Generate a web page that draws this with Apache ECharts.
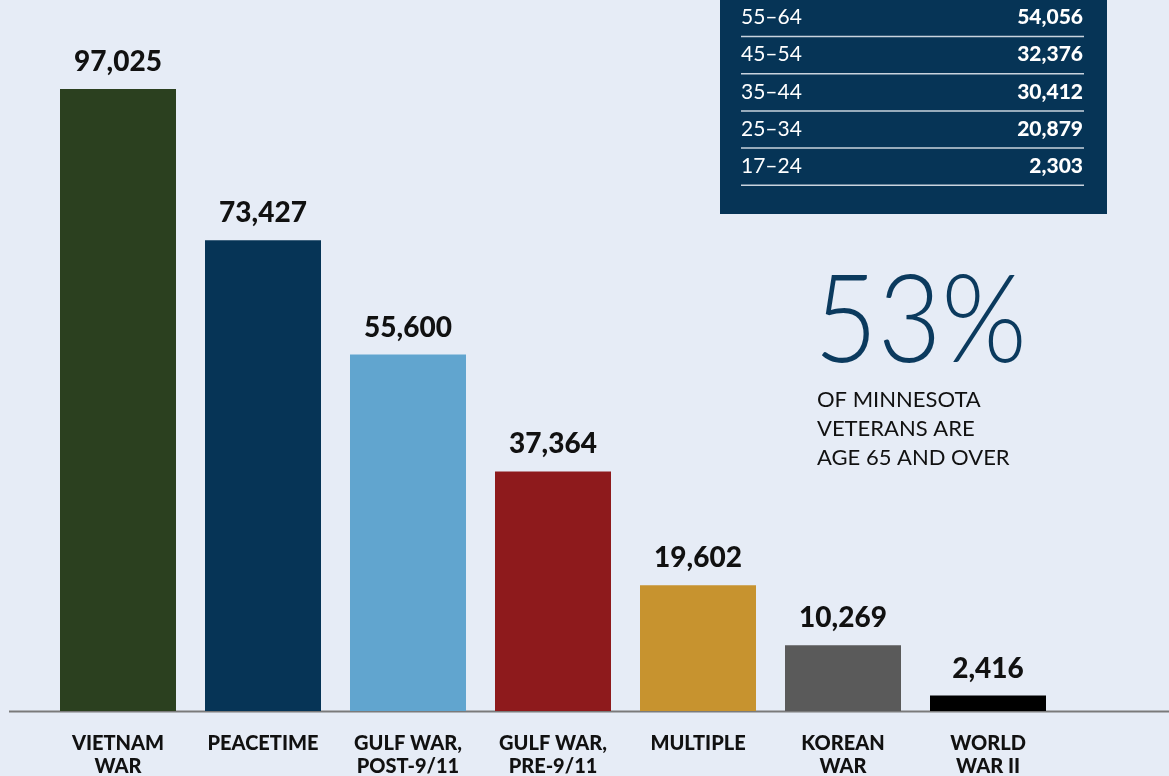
<!DOCTYPE html>
<html>
<head>
<meta charset="utf-8">
<script src="https://cdn.jsdelivr.net/npm/echarts@6/dist/echarts.min.js"></script>
<style>
  html, body { margin: 0; padding: 0; background: #e6ecf6; }
  #chart { width: 1169px; height: 776px; }
</style>
</head>
<body>
<div id="chart"></div>
<script>
const eras = ['VIETNAM\nWAR', 'PEACETIME', 'GULF WAR,\nPOST-9/11', 'GULF WAR,\nPRE-9/11', 'MULTIPLE', 'KOREAN\nWAR', 'WORLD\nWAR II']
const veterans = [97025, 73427, 55600, 37364, 19602, 10269, 2416]
const barColors = ['#2b401f', '#063456', '#61a5cf', '#8e1a1c', '#c7932f', '#5a5a5a', '#000000']

const ageGroups = ['55–64', '45–54', '35–44', '25–34', '17–24']
const ageCounts = [54056, 32376, 30412, 20879, 2303]

const fmt = (v) => v.toLocaleString('en-US')
const font = 'Lato, "Open Sans", sans-serif'

const chart = echarts.init(document.getElementById('chart'))

// navy table, top right
const tableItems = [
  { type: 'rect', shape: { x: 720, y: -10, width: 387, height: 224 }, style: { fill: '#063456' } },
]
ageGroups.forEach((g, i) => {
  const rowY = 17.5 + i * 37.2
  tableItems.push({
    type: 'text', x: 741, y: rowY,
    style: { text: g, fill: '#ffffff', font: '21px ' + font, textVerticalAlign: 'middle' },
  })
  tableItems.push({
    type: 'text', x: 1083, y: rowY,
    style: { text: fmt(ageCounts[i]), fill: '#ffffff', font: '900 21px ' + font, textAlign: 'right', textVerticalAlign: 'middle' },
  })
  tableItems.push({
    type: 'line', shape: { x1: 741, y1: rowY + 19, x2: 1084, y2: rowY + 19 },
    style: { stroke: '#c9d3de', lineWidth: 1.5 },
  })
})

chart.setOption({
  animation: false,
  backgroundColor: '#e6ecf6',
  grid: { left: 45.5, right: 1169 - 1060.5, top: 0, bottom: 65, outerBoundsMode: 'none' },
  xAxis: {
    type: 'category',
    data: eras,
    axisLine: { show: false },
    axisTick: { show: false },
    axisLabel: {
      margin: 21,
      interval: 0,
      color: '#111111',
      fontFamily: font,
      fontWeight: 900,
      fontSize: 20,
      lineHeight: 23,
    },
  },
  yAxis: {
    type: 'value',
    min: 0,
    max: 110900,
    show: false,
  },
  series: [
    {
      type: 'bar',
      data: veterans.map((v, i) => ({ value: v, itemStyle: { color: barColors[i] } })),
      barCategoryGap: '20%',
      label: {
        show: true,
        position: 'top',
        distance: 13,
        formatter: (p) => fmt(p.value),
        color: '#111111',
        fontFamily: font,
        fontWeight: 900,
        fontSize: 28,
      },
    },
  ],
  graphic: [
    ...tableItems,
    {
      type: 'line', shape: { x1: 9, y1: 711.5, x2: 1169, y2: 711.5 },
      style: { stroke: '#7a7a7a', lineWidth: 2 },
    },
    {
      type: 'text', x: 814, y: 262, scaleX: 0.9,
      style: { text: '53%', fill: '#0b3a5e', font: '300 122px ' + font },
    },
    {
      type: 'text', x: 817, y: 385,
      style: {
        text: 'OF MINNESOTA\nVETERANS ARE\nAGE 65 AND OVER',
        fill: '#111111', font: '22px ' + font, lineHeight: 29,
      },
    },
  ],
})
</script>
</body>
</html>
